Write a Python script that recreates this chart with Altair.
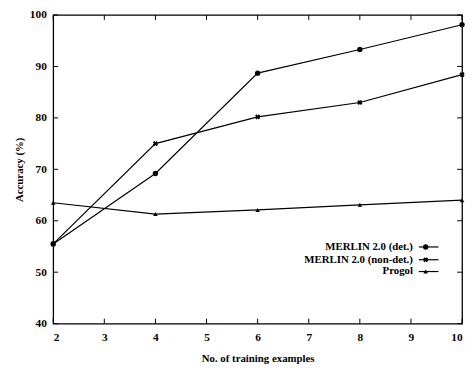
import altair as alt
import pandas as pd

x_vals = [2, 4, 6, 8, 10]
merlin_det = [55.5, 69.2, 88.7, 93.3, 98.1]
merlin_nondet = [55.5, 75.0, 80.2, 83.0, 88.4]
progol = [63.5, 61.3, 62.1, 63.1, 64.0]
series_names = ["MERLIN 2.0 (det.)", "MERLIN 2.0 (non-det.)", "Progol"]
x_ticks = [2, 3, 4, 5, 6, 7, 8, 9, 10]
y_ticks = [40, 50, 60, 70, 80, 90, 100]

W, H = 416, 314
FONT = "Liberation Serif"

rows = []
for name, vals in zip(series_names, [merlin_det, merlin_nondet, progol]):
    for xv, yv in zip(x_vals, vals):
        rows.append({"series": name, "x": xv, "y": yv})
df = pd.DataFrame(rows)

xs = alt.Scale(domain=[2, 10], nice=False, zero=False)
ys = alt.Scale(domain=[40, 100], nice=False, zero=False)

shapes = {
    series_names[0]: ("circle", 30, 0),
    series_names[1]: ("cross", 28, 45),
    series_names[2]: ("triangle-up", 22, 0),
}

base = alt.Chart(df).encode(
    x=alt.X("x:Q", scale=xs, title="No. of training examples",
            axis=alt.Axis(values=x_ticks, format="d", ticks=False, grid=False, domain=False,
                          labelFont=FONT, labelFontSize=11.5, labelFontWeight="bold",
                          labelColor="black", labelPadding=8,
                          titleFont=FONT, titleFontSize=11, titleFontWeight="bold",
                          titleColor="black", titlePadding=10)),
    y=alt.Y("y:Q", scale=ys, title="Accuracy (%)",
            axis=alt.Axis(values=y_ticks, format="d", ticks=False, grid=False, domain=False,
                          labelFont=FONT, labelFontSize=11.5, labelFontWeight="bold",
                          labelColor="black", labelPadding=7,
                          titleFont=FONT, titleFontSize=11, titleFontWeight="bold",
                          titleColor="black", titlePadding=5)),
)

layers = [base.mark_line(opacity=0)]
for name in series_names:
    sub = df[df.series == name]
    shp, sz, ang = shapes[name]
    c = alt.Chart(sub).encode(x=alt.X("x:Q", scale=xs), y=alt.Y("y:Q", scale=ys))
    layers.append(c.mark_line(color="black", strokeWidth=1.2))
    layers.append(c.mark_point(shape=shp, size=sz, angle=ang, filled=True, color="black", opacity=1))

# inward ticks on all four sides
xt = pd.DataFrame({"t": x_ticks})
yt = pd.DataFrame({"t": y_ticks})
layers.append(alt.Chart(xt).mark_rule(color="black", strokeWidth=1).encode(
    x=alt.X("t:Q", scale=xs), y=alt.value(H), y2=alt.value(H - 5)))
layers.append(alt.Chart(xt).mark_rule(color="black", strokeWidth=1).encode(
    x=alt.X("t:Q", scale=xs), y=alt.value(0), y2=alt.value(5)))
layers.append(alt.Chart(yt).mark_rule(color="black", strokeWidth=1).encode(
    y=alt.Y("t:Q", scale=ys), x=alt.value(0), x2=alt.value(5)))
layers.append(alt.Chart(yt).mark_rule(color="black", strokeWidth=1).encode(
    y=alt.Y("t:Q", scale=ys), x=alt.value(W), x2=alt.value(W - 5)))

# custom legend (label, then line sample with marker)
leg_y = [236, 249, 261]
for name, ly in zip(series_names, leg_y):
    shp, sz, ang = shapes[name]
    ld = pd.DataFrame({"label": [name]})
    layers.append(alt.Chart(ld).mark_text(
        align="right", baseline="middle", font=FONT, fontSize=11, fontWeight="bold", color="black"
    ).encode(text="label:N", x=alt.value(366), y=alt.value(ly)))
    layers.append(alt.Chart(ld).mark_rule(color="black", strokeWidth=1.2).encode(
        x=alt.value(372), x2=alt.value(392), y=alt.value(ly)))
    layers.append(alt.Chart(ld).mark_point(
        shape=shp, size=sz, angle=ang, filled=True, color="black", opacity=1
    ).encode(x=alt.value(379), y=alt.value(ly)))

chart = alt.layer(*layers).properties(
    width=W, height=H,
    autosize=alt.AutoSizeParams(type="none"),
    padding={"left": 46, "top": 4, "right": 4, "bottom": 42},
    background="white",
).configure_view(stroke="black", strokeWidth=1.3)

chart.save("out.html", embed_options={"renderer": "svg", "actions": False})
